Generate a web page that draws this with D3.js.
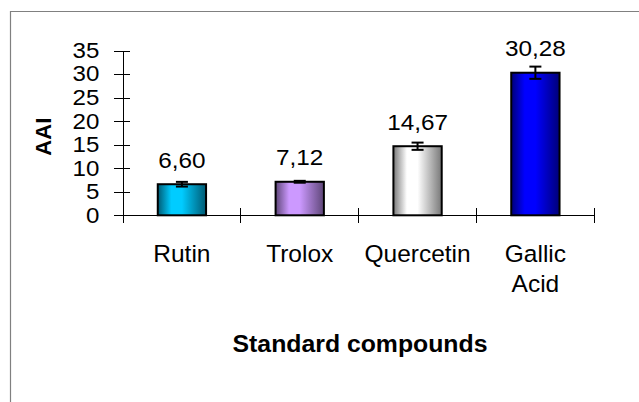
<!DOCTYPE html>
<html lang="en">
<head>
    <meta charset="utf-8">
    <title>AAI standard compounds</title>
    <script src="https://cdn.jsdelivr.net/npm/d3@7"></script>
    <style>
        body { margin: 0; background: #fff; }
        svg { display: block; font-family: "Liberation Sans", Arial, sans-serif; }
        .axis path, .axis line { stroke: #000; stroke-width: 1px; shape-rendering: crispEdges; }
    </style>
</head>
<body>
    <div id="chart"></div>
    <script type="text/javascript">
        var categories = ['Rutin', 'Trolox', 'Quercetin', 'Gallic Acid'];
        var values = [6.60, 7.12, 14.67, 30.28];
        var errors = [0.5, 0.2, 0.77, 1.3];
        var valueLabels = ['6,60', '7,12', '14,67', '30,28'];
        var yTicks = [0, 5, 10, 15, 20, 25, 30, 35];
        // center / edge colour of each bar's gradient
        var lightColors = ['#00ccff', '#cc99ff', '#ffffff', '#0000ff'];
        var darkColors = ['#005a73', '#5e4678', '#787878', '#000078'];

        var width = 639, height = 402;
        // plot box (window.top is read-only, so no "top" variable here)
        var plotLeft = 123, plotRight = 594.3, plotTop = 50.5, plotBottom = 215.3;

        var svg = d3.select('#chart').append('svg')
            .attr('width', width)
            .attr('height', height);

        // stretch text horizontally (the source picture is a bit wider than tall)
        function stretch(sel, k) {
            sel.each(function () {
                var w = this.getComputedTextLength();
                d3.select(this).attr('textLength', w * k).attr('lengthAdjust', 'spacingAndGlyphs');
            });
        }

        // frame (only top and left edges are visible)
        svg.append('path')
            .attr('d', 'M10.5,' + height + 'V11.5H' + width)
            .attr('fill', 'none')
            .attr('stroke', '#808080')
            .attr('stroke-width', 1.2);

        var y = d3.scaleLinear().domain([0, 35]).range([plotBottom, plotTop]);
        var slot = d3.scaleBand().domain(categories).range([plotLeft, plotRight]).padding(0);
        var x = d3.scaleBand().domain(categories).range([plotLeft, plotRight])
            .paddingInner(0.59).paddingOuter(0.295);

        var defs = svg.append('defs');
        categories.forEach(function (c, i) {
            var g = defs.append('linearGradient')
                .attr('id', 'grad' + i)
                .attr('x1', 0).attr('x2', 1).attr('y1', 0).attr('y2', 0);
            g.append('stop').attr('offset', '0%').attr('stop-color', darkColors[i]);
            g.append('stop').attr('offset', '28%').attr('stop-color', lightColors[i]);
            g.append('stop').attr('offset', '50%').attr('stop-color', lightColors[i]);
            g.append('stop').attr('offset', '100%').attr('stop-color', darkColors[i]);
        });

        // y axis with ticks crossing the line
        var yAxis = svg.append('g')
            .attr('class', 'axis')
            .attr('transform', 'translate(' + plotLeft + ',0)')
            .call(d3.axisLeft(y).tickValues(yTicks).tickSize(9).tickPadding(14.7).tickSizeOuter(0));
        yAxis.selectAll('.tick line').attr('x1', 7);
        yAxis.selectAll('.tick text')
            .attr('fill', '#000')
            .style('font-size', '21.5px')
            .style('font-family', '"Liberation Sans", Arial, sans-serif')
            .call(stretch, 1.12);

        // x axis: ticks at category boundaries
        var xAxis = svg.append('g').attr('class', 'axis');
        xAxis.append('line')
            .attr('x1', plotLeft).attr('x2', plotRight)
            .attr('y1', y(0)).attr('y2', y(0));
        var bounds = categories.map(function (c) { return slot(c); }).concat([plotRight]);
        xAxis.selectAll('.xt')
            .data(bounds)
            .enter()
            .append('line')
            .attr('class', 'xt')
            .attr('x1', function (d) { return d; })
            .attr('x2', function (d) { return d; })
            .attr('y1', y(0) - 7)
            .attr('y2', y(0) + 7.5);

        // bars
        svg.selectAll('.bar')
            .data(values)
            .enter()
            .append('rect')
            .attr('class', 'bar')
            .attr('x', function (d, i) { return x(categories[i]); })
            .attr('y', function (d) { return y(d); })
            .attr('width', x.bandwidth())
            .attr('height', function (d) { return y(0) - y(d); })
            .attr('fill', function (d, i) { return 'url(#grad' + i + ')'; })
            .attr('stroke', '#000')
            .attr('stroke-width', 2);

        // error bars
        var eb = svg.selectAll('.err')
            .data(values)
            .enter()
            .append('g')
            .attr('class', 'err')
            .attr('stroke', '#000')
            .attr('stroke-width', 2);
        eb.append('line')
            .attr('x1', function (d, i) { return x(categories[i]) + x.bandwidth() / 2; })
            .attr('x2', function (d, i) { return x(categories[i]) + x.bandwidth() / 2; })
            .attr('y1', function (d, i) { return y(d + errors[i]); })
            .attr('y2', function (d, i) { return y(d - errors[i]); });
        [1, -1].forEach(function (s) {
            eb.append('line')
                .attr('x1', function (d, i) { return x(categories[i]) + x.bandwidth() / 2 - 6; })
                .attr('x2', function (d, i) { return x(categories[i]) + x.bandwidth() / 2 + 6; })
                .attr('y1', function (d, i) { return y(d + s * errors[i]); })
                .attr('y2', function (d, i) { return y(d + s * errors[i]); });
        });

        // value labels
        svg.selectAll('.val')
            .data(values)
            .enter()
            .append('text')
            .attr('class', 'val')
            .attr('x', function (d, i) { return x(categories[i]) + x.bandwidth() / 2; })
            .attr('y', function (d) { return y(d) - 16.5; })
            .attr('text-anchor', 'middle')
            .style('font-size', '21.5px')
            .text(function (d, i) { return valueLabels[i]; })
            .call(stretch, 1.13);

        // category labels (wrapped on spaces)
        svg.selectAll('.cat')
            .data(categories)
            .enter()
            .append('text')
            .attr('class', 'cat')
            .attr('text-anchor', 'middle')
            .style('font-size', '24.5px')
            .each(function (c) {
                var t = d3.select(this);
                var words = c === 'Gallic Acid' ? ['Gallic', 'Acid'] : [c];
                words.forEach(function (w, k) {
                    t.append('tspan')
                        .attr('x', slot(c) + slot.bandwidth() / 2)
                        .attr('y', 262.3 + k * 29.4)
                        .text(w);
                });
            });

        // axis titles
        svg.append('text')
            .attr('x', 360)
            .attr('y', 351.7)
            .attr('text-anchor', 'middle')
            .style('font-size', '24.8px')
            .style('font-weight', 'bold')
            .text('Standard compounds');

        svg.append('text')
            .attr('transform', 'translate(51,136.7) rotate(-90)')
            .attr('text-anchor', 'middle')
            .style('font-size', '22px')
            .style('font-weight', 'bold')
            .text('AAI');
    </script>
</body>
</html>
